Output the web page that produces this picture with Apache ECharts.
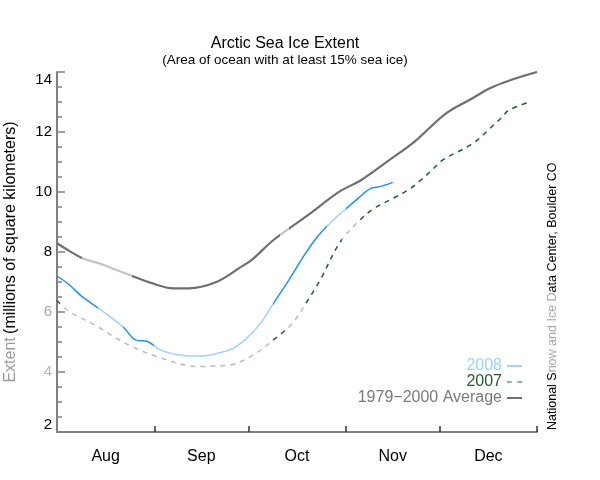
<!DOCTYPE html>
<html>
<head>
<meta charset="utf-8">
<script src="https://cdn.jsdelivr.net/npm/echarts@6/dist/echarts.min.js"></script>
<style>html,body{margin:0;padding:0;background:#fff;}#c{width:600px;height:480px;}</style>
</head>
<body>
<div id="c"></div>
<script>
// ---- data (day offset from Aug 1, extent in millions km²) ----
const months = ['Aug', 'Sep', 'Oct', 'Nov', 'Dec'];
const monthStarts = [0, 31, 61, 92, 122, 153];
const yTickValues = [2, 4, 6, 8, 10, 12, 14];

const days2008 = [0, 4, 8, 14, 21, 25, 29, 33, 39, 45, 51, 57, 64, 69, 74, 79, 83, 87, 91, 96, 100, 103, 107];
const ext2008  = [7.2, 6.9, 6.51, 6.07, 5.51, 5.07, 5.01, 4.73, 4.57, 4.53, 4.62, 4.84, 5.51, 6.29, 7.08, 7.92, 8.51, 8.96, 9.34, 9.79, 10.12, 10.18, 10.32];

const days2007 = [0, 4, 12, 19, 24, 33, 45, 50, 55, 62, 69, 75, 80, 84, 90, 96, 101, 106, 112, 116, 119, 123, 130, 134, 138, 142, 144, 151];
const ext2007  = [6.38, 6.01, 5.57, 5.12, 4.84, 4.47, 4.18, 4.2, 4.23, 4.53, 5.07, 5.62, 6.4, 7.09, 8.29, 9.01, 9.45, 9.73, 10.07, 10.4, 10.68, 11.07, 11.46, 11.73, 12.12, 12.51, 12.73, 13.01];

const daysAvg = [0, 4, 8, 14, 19, 24, 30, 37, 42, 46, 51, 54, 58, 62, 69, 80, 90, 97, 106, 114, 124, 132, 138, 144, 153];
const extAvg  = [8.29, 8.03, 7.8, 7.6, 7.4, 7.2, 6.97, 6.79, 6.79, 6.84, 7.01, 7.18, 7.46, 7.73, 8.4, 9.23, 10.01, 10.4, 11.07, 11.68, 12.62, 13.1, 13.46, 13.71, 14.0];

const seriesNames = ['2008', '2007', '1979\u22122000 Average'];

// ---- build ----
const pairs = (d, v) => d.map((x, i) => [x, v[i]]);
const monthMids = months.map((m, i) => (monthStarts[i] + monthStarts[i + 1]) / 2);
const FONT = '"Liberation Sans", Helvetica, Arial, sans-serif';

const C = {
  blueD: '#1f8ff0', blueL: '#a2d1f8',
  greenD: '#1f5f2c', greenL: '#a9c8ab',
  grayD: '#6f6f6f', grayL: '#c4c4c4',
  axis: '#808080'
};

const chart = echarts.init(document.getElementById('c'), null, { renderer: 'canvas' });

chart.setOption({
  animation: false,
  backgroundColor: '#ffffff',
  textStyle: { fontFamily: FONT },
  grid: { left: 57, right: 63, top: 72, bottom: 48, containLabel: false, outerBoundsMode: 'none' },
  graphic: [
    { type: 'text', x: 285, y: 44, style: { text: 'Arctic Sea Ice Extent', font: '16px ' + FONT, fill: '#000', align: 'center', verticalAlign: 'middle' } },
    { type: 'text', x: 285, y: 60, style: { text: '(Area of ocean with at least 15% sea ice)', font: '13.5px ' + FONT, fill: '#000', align: 'center', verticalAlign: 'middle' } },
    { type: 'text', x: 553, y: 430, rotation: Math.PI / 2,
      style: { text: '{d|National S}{l|now and Ice D}{d|ata Center, Boulder CO}', font: '12.5px ' + FONT, align: 'left', verticalAlign: 'middle',
        rich: { d: { fill: '#000', font: '12.5px ' + FONT }, l: { fill: '#a8a8a8', font: '12.5px ' + FONT } } } }
  ],
  xAxis: {
    type: 'value', min: monthStarts[0], max: monthStarts[monthStarts.length - 1],
    splitLine: { show: false },
    axisLine: { lineStyle: { color: C.axis, width: 2 } },
    axisTick: { show: true, inside: true, length: 6, customValues: monthStarts.slice(1), lineStyle: { color: '#333', width: 1.5 } },
    axisLabel: { customValues: monthMids, margin: 17, fontSize: 16, color: '#000',
      formatter: v => months[monthMids.indexOf(v)] || '' }
  },
  yAxis: {
    type: 'value', min: yTickValues[0], max: yTickValues[yTickValues.length - 1], interval: 2,
    splitLine: { show: false },
    axisLine: { show: true, lineStyle: { color: C.axis, width: 2 } },
    axisTick: { show: true, inside: true, length: 8, lineStyle: { color: C.axis, width: 1.5 } },
    minorTick: { show: true, splitNumber: 4, length: 5, lineStyle: { color: C.axis, width: 1.5 } },
    axisLabel: { margin: 5, fontSize: 15, color: '#000',
      verticalAlignMaxLabel: 'top', verticalAlignMinLabel: 'bottom',
      formatter: v => (v === 6 ? '{l6|' + v + '}' : v === 4 ? '{l4|' + v + '}' : '' + v),
      rich: { l6: { color: '#a6a6a6', fontSize: 15 }, l4: { color: '#b8b8b8', fontSize: 15 } } },
    name: '{a|Extent} {b|(millions of square kilometers)}',
    nameLocation: 'middle', nameGap: 38,
    nameTextStyle: { rich: { a: { color: '#9a9a9a', fontSize: 16 }, b: { color: '#000', fontSize: 16 } } }
  },
  visualMap: [
    { type: 'piecewise', show: false, seriesIndex: 0, dimension: 0,
      pieces: [
        { lt: 13, color: C.blueD }, { gte: 13, lt: 21, color: C.blueL }, { gte: 21, lt: 31, color: C.blueD },
        { gte: 31, lt: 69, color: C.blueL }, { gte: 69, lt: 86, color: C.blueD }, { gte: 86, lt: 92, color: C.blueL },
        { gte: 92, color: C.blueD } ] },
    { type: 'piecewise', show: false, seriesIndex: 1, dimension: 0,
      pieces: [
        { lt: 1, color: C.greenD }, { gte: 1, lt: 68, color: C.greenL }, { gte: 68, lt: 73, color: C.greenD },
        { gte: 73, lt: 79, color: C.greenL }, { gte: 79, lt: 91, color: C.greenD }, { gte: 91, lt: 96, color: C.greenL },
        { gte: 96, color: C.greenD } ] },
    { type: 'piecewise', show: false, seriesIndex: 2, dimension: 0,
      pieces: [
        { lt: 8, color: C.grayD }, { gte: 8, lt: 24, color: C.grayL }, { gte: 24, lt: 71, color: C.grayD },
        { gte: 71, lt: 74, color: C.grayL }, { gte: 74, color: C.grayD } ] }
  ],
  legend: {
    orient: 'vertical', right: 78, top: 358, align: 'right', padding: 0,
    itemWidth: 15, itemHeight: 2, itemGap: 0,
    textStyle: { fontSize: 16, lineHeight: 16, fontFamily: FONT },
    data: [
      { name: seriesNames[0], icon: 'rect', textStyle: { color: '#a2d1f8' }, itemStyle: { color: C.blueL } },
      { name: seriesNames[1], icon: 'path://M0,0h4v1h-4z M9,0h4v1h-4z', textStyle: { color: C.greenD }, itemStyle: { color: C.greenD } },
      { name: seriesNames[2], icon: 'rect', textStyle: { color: '#7a7a7a' }, itemStyle: { color: C.grayD } }
    ]
  },
  series: [
    { name: seriesNames[0], type: 'line', data: pairs(days2008, ext2008), smooth: 0.35, symbol: 'none',
      lineStyle: { width: 1.5 } },
    { name: seriesNames[1], type: 'line', data: pairs(days2007, ext2007), smooth: 0.35, symbol: 'none',
      lineStyle: { width: 1.5, type: [5, 5] } },
    { name: seriesNames[2], type: 'line', data: pairs(daysAvg, extAvg), smooth: 0.35, symbol: 'none',
      lineStyle: { width: 2.2 } }
  ]
});
</script>
</body>
</html>
